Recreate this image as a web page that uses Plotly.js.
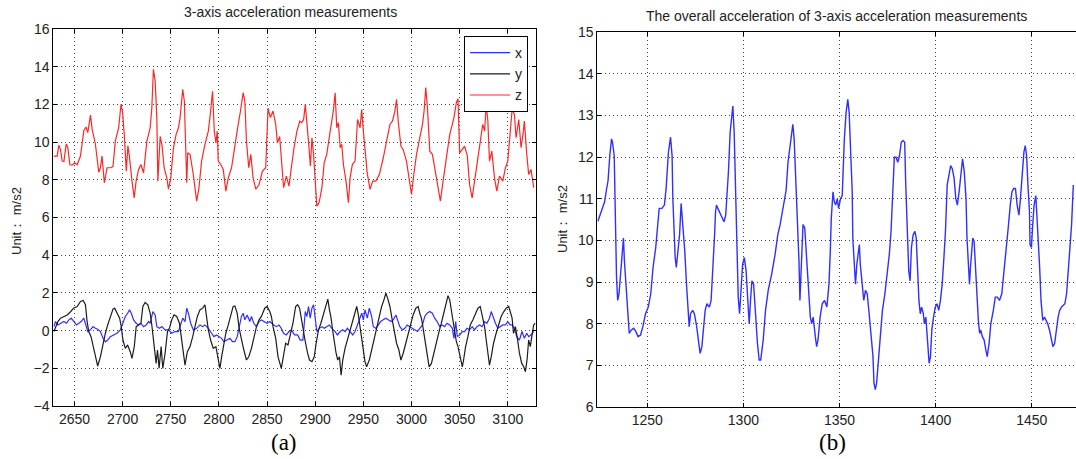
<!DOCTYPE html>
<html>
<head>
<meta charset="utf-8">
<script src="https://cdn.plot.ly/plotly-3.0.1.min.js"></script>
<style>html,body{margin:0;padding:0;background:#fff}#chart{width:1076px;height:459px}</style>
</head>
<body>
<div id="chart"></div>
<script>
// ---- Data (sample index, value) ----
const titleA = "3-axis acceleration measurements";
const titleB = "The overall acceleration of 3-axis acceleration measurements";
const yLabel = "Unit： m/s2";
const seriesNames = ["x", "y", "z"];
const ticksA = [2650, 2700, 2750, 2800, 2850, 2900, 2950, 3000, 3050, 3100];
const yTicksA = [-4, -2, 0, 2, 4, 6, 8, 10, 12, 14, 16];
const ticksB = [1250, 1300, 1350, 1400, 1450];
const yTicksB = [6, 7, 8, 9, 10, 11, 12, 13, 14, 15];

const zAxis = [[2628.6,9.26],[2632,9.26],[2633.8,9.84],[2635.5,9.6],[2637.2,9.0],[2639,8.96],[2641.4,9.9],[2643.1,9.7],[2645.2,8.8],[2647.6,8.78],[2650,8.9],[2652.8,8.8],[2656.2,9.26],[2659.7,10.6],[2662,10.8],[2663.8,10.5],[2666.6,11.43],[2668.3,10.7],[2671.7,9.9],[2675.2,8.4],[2676.9,8.64],[2678.6,9.26],[2681,7.84],[2683.8,8.64],[2687.2,8.64],[2690,8.7],[2692.4,10.05],[2695.9,10.76],[2698.3,12.0],[2700,11.56],[2701.7,10.4],[2703.8,8.46],[2705.5,9.8],[2707.2,9.17],[2709.7,7.93],[2712,7.04],[2714,7.93],[2716.6,8.55],[2719,8.81],[2721.7,8.37],[2725.2,10.05],[2728.6,10.76],[2730.3,11.8],[2732,13.86],[2733.8,13.24],[2735.5,11.3],[2736.6,7.93],[2739,10.3],[2741,9.79],[2743.1,8.64],[2745.9,8.1],[2747.6,7.5],[2750,8.1],[2752.8,9.7],[2755.5,10.4],[2758,10.76],[2759.7,11.3],[2762.4,12.8],[2764.1,12.18],[2765.9,9.17],[2766.6,7.84],[2767.6,9.43],[2770,9.35],[2773.4,8.28],[2776.9,6.87],[2779.3,7.58],[2782,8.99],[2785.5,9.88],[2789,10.58],[2791.4,11.65],[2793.4,12.7],[2795.2,10.58],[2796.9,9.96],[2798.3,10.58],[2799.3,8.99],[2802,8.81],[2804.5,8.55],[2807.2,7.4],[2809.7,8.1],[2813.1,8.64],[2816.6,9.88],[2820,10.94],[2822.4,11.65],[2825.2,12.62],[2826.9,12.18],[2828.6,10.05],[2831,8.64],[2833.1,9.35],[2835.5,8.1],[2838.3,7.5],[2841.7,7.75],[2845.2,8.46],[2848.6,8.64],[2851,11.8],[2853.4,11.3],[2856.2,11.65],[2859,10.94],[2860.7,9.96],[2863.1,10.3],[2864.8,9.35],[2867.2,7.58],[2870,8.2],[2872.8,7.66],[2875.2,8.64],[2876,8.99],[2878,9.7],[2881,10.58],[2884,11.12],[2886,11.03],[2888,11.2],[2889.7,12.0],[2891.4,11.1],[2893,10.05],[2895,8.73],[2896.6,10.23],[2898.3,9.35],[2900,8.0],[2901.7,6.6],[2904,6.78],[2907,7.58],[2909.3,8.9],[2912,9.35],[2914.8,10.32],[2917.2,11.12],[2919,11.73],[2920.7,12.62],[2922.4,10.76],[2924,11.03],[2926,9.7],[2927.6,9.88],[2929.3,8.81],[2932,7.93],[2934.5,6.78],[2936.2,8.1],[2938.6,8.81],[2941.4,8.99],[2944,11.2],[2946.6,10.76],[2948.3,11.73],[2950,10.58],[2951.7,9.7],[2954,8.37],[2956.9,7.49],[2959.7,7.93],[2963,7.93],[2966.6,8.28],[2970.7,9.17],[2974,10.05],[2977.6,10.94],[2980.3,11.12],[2982.8,11.65],[2984.5,12.27],[2986.2,11.12],[2989,9.79],[2991.4,9.6],[2994.8,8.99],[2997.6,8.0],[3000,7.22],[3002.4,8.28],[3005.2,9.35],[3008.6,10.23],[3011.4,10.94],[3013.1,11.65],[3014.8,12.89],[3016.6,11.82],[3019,9.52],[3021.7,9.35],[3024.1,8.64],[3026.9,7.93],[3030,6.87],[3032.8,7.93],[3036.2,9.17],[3039.7,10.4],[3042.4,10.94],[3044.1,11.3],[3046.6,12.09],[3048.3,12.3],[3050,9.43],[3052.8,9.61],[3055.2,9.79],[3058,9.26],[3060.3,7.75],[3063,7.04],[3065.5,7.93],[3069,8.99],[3071.7,10.05],[3074,10.94],[3075.9,10.58],[3077.6,12.0],[3079.3,11.12],[3081,8.99],[3083.4,9.52],[3086.2,8.1],[3088.6,7.4],[3091.4,8.2],[3094.8,7.93],[3097.6,8.64],[3100,8.99],[3102.4,10.48],[3104.5,11.73],[3106.9,11.47],[3108.6,10.23],[3111.4,11.2],[3113.8,9.7],[3116.2,10.58],[3117.2,11.12],[3119.7,9.35],[3121.7,8.28],[3124.1,8.55],[3127,7.58]];

const yAxisSeries = [[2628.6,-0.05],[2630.3,0.2],[2632.8,0.48],[2635.5,0.66],[2639,0.75],[2642.4,0.83],[2645.9,1.0],[2649.3,1.2],[2652.8,1.28],[2656.2,1.55],[2659,1.6],[2661.4,1.37],[2663.1,0.48],[2664.8,-0.05],[2667.2,-0.32],[2670,-1.03],[2672.4,-1.56],[2674.1,-1.88],[2676.9,-1.39],[2679.7,-0.67],[2682.1,-0.14],[2684.5,0.3],[2687.2,0.75],[2690,1.14],[2691.7,1.19],[2694.1,0.92],[2696.9,0.66],[2698.6,0.21],[2700.3,-0.5],[2702.8,-0.94],[2705.2,-0.76],[2707.9,-1.12],[2709.7,-1.47],[2712.1,-0.85],[2714.1,0.21],[2716.6,0.3],[2719,0.39],[2721,1.28],[2723.4,1.49],[2726.2,1.37],[2728.6,0.92],[2730.3,0.3],[2732.8,-0.67],[2734.8,-1.74],[2736.2,-1.03],[2737.9,-2.0],[2740,-0.85],[2741.7,-2.0],[2744.1,-1.2],[2746.6,-0.05],[2748.6,0.12],[2751,0.57],[2753.4,0.83],[2756.2,0.75],[2759,0.39],[2760.7,-0.32],[2762.4,-1.03],[2764.8,-1.83],[2767.2,-1.12],[2770,-0.85],[2772.8,-0.32],[2775.2,0.3],[2777.6,0.75],[2780.3,1.1],[2783.1,1.19],[2785.5,1.37],[2787.2,0.75],[2789,0.04],[2791.4,-0.5],[2794.1,-0.94],[2796.9,-0.85],[2799.3,-1.47],[2801,-2.0],[2802.8,-1.39],[2804.5,-0.85],[2807.2,-0.14],[2809.7,0.3],[2812.1,0.75],[2814.8,1.28],[2816.6,1.31],[2819,0.92],[2821,0.12],[2823.4,-0.5],[2825.9,-1.03],[2828.6,-1.56],[2831,-1.39],[2833.8,-0.94],[2836.2,-0.41],[2839,0.21],[2841.7,0.57],[2844.1,0.75],[2847.6,1.19],[2850,1.28],[2852.8,1.01],[2854.5,0.75],[2856.2,0.21],[2859,-0.41],[2861.4,-1.39],[2863.1,-1.74],[2864.8,-2.0],[2866.6,-1.47],[2869.3,-0.67],[2871.7,-0.76],[2874.1,-0.23],[2876.9,0.39],[2879.7,1.28],[2881.7,1.37],[2883.8,1.19],[2885.5,0.66],[2887.2,0.04],[2889.7,-0.59],[2892.1,-1.2],[2894.1,-1.56],[2896.6,-1.65],[2899,-1.39],[2901,-0.67],[2903.4,0.04],[2905.9,0.39],[2908.6,0.92],[2911.4,1.46],[2913.1,1.67],[2914.8,1.1],[2916.2,0.75],[2918.3,-0.05],[2920,-0.67],[2921.7,-1.2],[2923.4,-1.56],[2925.2,-1.39],[2926.9,-2.36],[2928.6,-1.56],[2931,-0.94],[2933.4,-0.5],[2936.2,0.04],[2939,0.66],[2941.4,1.1],[2943.1,1.28],[2944.8,0.83],[2946.6,0.21],[2948.3,-0.5],[2950,-1.03],[2951.7,-1.65],[2953.4,-1.92],[2956.2,-1.56],[2958.6,-1.03],[2961,-0.5],[2963.8,0.04],[2966.6,0.66],[2969,1.28],[2971.4,1.63],[2973.4,1.99],[2975.2,1.72],[2977.6,1.28],[2980,0.57],[2982.1,-0.05],[2984.5,-0.67],[2986.9,-1.03],[2989,-1.56],[2991.4,-1.2],[2994.1,-0.67],[2996.6,-0.14],[2999.3,0.39],[3001.7,0.83],[3004.5,1.19],[3006.9,1.28],[3008.6,0.92],[3010.3,0.66],[3012.1,0.12],[3014.8,-0.85],[3016.6,-1.56],[3018.3,-1.92],[3020.7,-1.74],[3023.1,-1.2],[3025.9,-0.67],[3028.6,-0.05],[3031,0.39],[3033.4,0.92],[3036.2,1.55],[3037.9,1.85],[3039.7,1.63],[3041.4,1.1],[3043.1,0.57],[3044.8,0.04],[3046.6,-0.59],[3048.3,-0.85],[3050.7,-1.39],[3052.8,-1.92],[3054.1,-1.56],[3056.2,-0.85],[3058.6,-0.32],[3061,0.3],[3063.8,0.57],[3066.6,0.92],[3069,1.19],[3071.4,1.28],[3073.4,0.83],[3075.9,0.21],[3077.6,-0.5],[3079.3,-1.2],[3081,-1.83],[3082.8,-1.39],[3085.2,-0.67],[3087.9,-0.14],[3090.7,0.39],[3093.1,0.75],[3095.9,1.01],[3098.3,1.19],[3101,1.28],[3102.8,0.92],[3104.5,0.66],[3105.9,-0.14],[3107.9,0.21],[3109.7,-0.32],[3112.1,-1.2],[3114.5,-1.74],[3116.6,-1.92],[3118.3,-2.18],[3120,-1.56],[3121.7,-0.5],[3123.4,-0.85],[3125.2,-0.23],[3126.9,0.3],[3128.5,0.4]];

const xAxisSeries = [[2628.6,0.21],[2630.3,0.48],[2632.8,0.3],[2635.5,0.39],[2639,0.48],[2641.7,0.39],[2644.1,0.57],[2646.6,0.66],[2649.3,0.48],[2652.1,0.3],[2654.5,0.39],[2656.9,0.48],[2659.7,0.66],[2662.1,0.3],[2663.8,-0.05],[2666.6,0.04],[2669.3,0.21],[2671.7,0.12],[2674.1,0.07],[2676.9,-0.05],[2679.7,-0.41],[2682.1,-0.6],[2684.5,-0.5],[2687.2,-0.32],[2690.7,-0.23],[2694.1,-0.14],[2697.6,0.04],[2700.3,0.39],[2702.8,0.75],[2705.2,0.92],[2707.2,1.1],[2709,0.92],[2711.4,0.57],[2714.1,0.39],[2716.6,0.3],[2719,0.39],[2721.7,0.21],[2724.5,0.3],[2726.9,0.48],[2728.6,0.39],[2731.4,1.01],[2733.8,0.83],[2735.5,0.21],[2738.3,0.12],[2740.7,0.21],[2744.1,0.04],[2747.6,0.04],[2751,-0.14],[2754.5,-0.05],[2757.9,-0.05],[2760.3,0.3],[2762.4,0.66],[2764.8,0.48],[2766.6,1.19],[2768.3,0.92],[2770.7,0.39],[2773.4,0.04],[2776.9,0.12],[2780.3,0.3],[2783.1,0.21],[2785.5,0.3],[2789,0.12],[2792.4,-0.14],[2794.8,-0.32],[2797.6,-0.23],[2800.3,-0.32],[2802.8,-0.41],[2805.2,-0.59],[2807.9,-0.5],[2811.4,-0.41],[2814.1,-0.59],[2816.6,-0.59],[2819,-0.32],[2821,0.21],[2823.4,0.75],[2825.2,0.92],[2826.9,0.57],[2829.3,0.83],[2832.1,0.48],[2833.8,0.75],[2836.2,0.39],[2839,0.21],[2841.7,0.48],[2844.1,0.57],[2847.6,0.48],[2850,0.39],[2852.8,0.48],[2854.5,0.39],[2856.9,0.3],[2859.7,0.21],[2862.4,0.3],[2864.8,0.12],[2867.2,-0.14],[2870,-0.23],[2872.8,-0.05],[2875.2,0.04],[2878.6,-0.23],[2881.7,-0.23],[2884.5,-0.5],[2887.2,-0.5],[2889.7,1.01],[2891.4,0.75],[2893.1,1.28],[2894.8,0.66],[2896.6,1.19],[2898.3,1.37],[2900,0.57],[2901.7,-0.05],[2904.5,0.12],[2906.9,0.21],[2909.3,0.12],[2912.1,0.21],[2914.8,0.3],[2917.2,0.12],[2920.7,-0.05],[2923.1,-0.23],[2925.9,-0.05],[2928.6,0.04],[2931,-0.05],[2933.4,0.12],[2936.2,-0.05],[2939,-0.23],[2941.4,-0.05],[2944.1,0.3],[2946.6,0.66],[2948.3,0.92],[2950,0.57],[2951.7,1.1],[2954.1,0.66],[2956.2,1.19],[2958.6,0.75],[2960.3,0.21],[2963.1,0.12],[2965.5,0.3],[2967.9,0.48],[2970.7,0.57],[2973.4,0.66],[2975.9,0.57],[2978.6,0.48],[2981,0.57],[2983.8,0.83],[2985.5,0.57],[2987.9,0.21],[2990.7,0.04],[2993.1,0.12],[2995.5,0.3],[2998.3,0.21],[3001,0.12],[3003.4,0.04],[3006.2,-0.05],[3008.6,0.12],[3011.4,0.3],[3013.8,0.75],[3016.2,0.92],[3019,1.01],[3021.7,0.92],[3024.1,0.66],[3026.6,0.48],[3029.3,0.21],[3032.1,0.3],[3034.5,0.21],[3036.9,0.39],[3039.7,0.3],[3042.4,0.12],[3044.1,-0.41],[3045.9,0.48],[3047.6,-0.32],[3050,-0.23],[3052.8,-0.05],[3055.2,-0.05],[3057.6,0.12],[3060.3,0.04],[3063.1,0.21],[3065.5,0.04],[3067.9,0.21],[3070.7,0.3],[3073.4,0.21],[3075.9,0.48],[3078.3,0.39],[3081,0.66],[3082.8,1.01],[3084.5,0.75],[3087.2,0.39],[3089.7,0.12],[3092.1,0.21],[3094.8,0.3],[3097.6,0.3],[3100,0.48],[3102.4,0.3],[3104.5,0.3],[3106.9,0.12],[3109.3,-0.32],[3112.1,-0.5],[3114.8,-0.05],[3117.2,-0.41],[3119.7,-0.14],[3121.7,-0.32],[3124.1,-0.23],[3126.9,-0.05]];

const overall = [[1224.3,10.46],[1226.1,10.69],[1227.8,10.93],[1228.7,11.2],[1229.6,11.44],[1230.5,12.04],[1231.4,12.44],[1231.9,12.36],[1232.8,12.04],[1234.0,9.11],[1234.6,8.56],[1235.3,8.72],[1236.3,9.35],[1237.1,9.67],[1237.6,10.06],[1238.1,9.51],[1238.8,8.95],[1239.9,8.08],[1240.6,7.77],[1241.7,7.85],[1242.9,7.89],[1244.1,7.81],[1245.2,7.69],[1246.5,7.73],[1247.7,7.93],[1249.1,8.24],[1250.5,8.4],[1251.8,8.72],[1253.0,9.35],[1254.4,9.83],[1255.3,10.3],[1256.2,10.77],[1257.6,10.77],[1258.9,10.85],[1259.8,11.25],[1261.0,12.12],[1262.1,12.48],[1262.9,12.04],[1263.3,11.0],[1263.8,10.22],[1264.5,9.59],[1265.1,9.35],[1266.0,9.83],[1266.8,10.14],[1267.6,10.89],[1268.6,10.37],[1269.5,9.75],[1270.4,8.95],[1271.3,8.24],[1271.8,7.93],[1272.5,8.24],[1273.6,8.32],[1274.5,8.24],[1275.7,7.93],[1276.8,7.53],[1277.5,7.29],[1278.4,7.45],[1279.3,8.0],[1280.1,8.32],[1281.0,8.48],[1282.3,8.4],[1283.2,8.56],[1284.2,9.35],[1285.1,10.22],[1285.5,10.69],[1286.0,10.85],[1286.7,10.77],[1288.1,10.61],[1289.9,10.45],[1290.8,10.61],[1291.3,10.93],[1292.2,11.64],[1293.1,12.6],[1294.0,13.15],[1294.5,13.23],[1295.2,12.6],[1296.1,11.0],[1296.6,9.75],[1297.3,8.64],[1298.0,8.24],[1298.8,8.72],[1299.6,9.43],[1300.5,9.59],[1301.4,9.27],[1302.3,8.56],[1303.0,8.0],[1303.7,8.56],[1304.4,9.03],[1305.3,8.95],[1306.2,8.24],[1307.3,7.53],[1308.2,7.13],[1309.0,7.13],[1310.3,7.61],[1311.5,8.32],[1312.9,8.8],[1314.7,9.19],[1316.5,9.67],[1317.9,10.14],[1319.1,10.38],[1320.4,10.77],[1321.5,11.0],[1322.2,11.2],[1323.2,11.88],[1324.5,12.44],[1325.7,12.79],[1326.4,12.44],[1327.1,11.64],[1327.7,11.0],[1328.2,10.3],[1328.9,9.51],[1329.4,8.56],[1330.0,9.19],[1331.0,10.38],[1331.9,10.3],[1332.8,9.59],[1333.9,8.8],[1334.8,8.16],[1335.5,8.0],[1336.3,8.16],[1337.4,7.69],[1338.1,7.45],[1338.8,7.61],[1339.9,8.16],[1341.0,8.48],[1342.2,8.56],[1343.4,8.4],[1344.5,8.95],[1345.2,9.75],[1345.7,10.53],[1346.6,11.17],[1347.3,10.93],[1348.0,10.85],[1348.8,11.0],[1349.5,10.77],[1350.5,11.0],[1351.4,11.08],[1352.5,12.44],[1353.4,13.07],[1354.3,13.39],[1355.0,13.07],[1355.9,12.2],[1356.6,11.17],[1356.9,10.06],[1357.6,9.35],[1358.3,8.95],[1359.0,9.43],[1359.8,9.75],[1360.3,9.9],[1360.8,9.43],[1361.7,8.95],[1362.6,8.56],[1363.5,8.8],[1364.4,8.72],[1365.4,8.24],[1366.5,7.69],[1367.4,7.21],[1367.9,6.58],[1368.6,6.42],[1369.3,6.58],[1370.2,7.05],[1371.1,7.69],[1372.3,8.32],[1373.6,8.72],[1374.6,9.11],[1375.9,9.67],[1376.8,10.22],[1377.3,10.85],[1377.8,11.49],[1378.5,12.0],[1379.4,12.0],[1380.3,11.88],[1381.2,12.04],[1382.1,12.36],[1383.0,12.4],[1383.9,12.36],[1384.4,11.4],[1384.9,10.85],[1385.3,10.06],[1386.0,9.27],[1386.7,9.03],[1387.4,9.83],[1388.3,10.14],[1389.2,10.22],[1389.9,10.06],[1390.6,9.19],[1391.3,8.56],[1392.0,8.24],[1392.7,8.4],[1393.6,8.24],[1394.1,8.0],[1394.9,8.16],[1395.7,7.53],[1396.6,7.05],[1397.3,7.21],[1398.0,7.85],[1398.9,8.16],[1399.8,8.4],[1400.7,8.48],[1401.6,8.32],[1402.5,8.56],[1403.4,8.95],[1404.3,9.59],[1405.1,10.22],[1406.0,11.33],[1406.9,11.56],[1407.8,11.8],[1408.7,11.72],[1409.6,11.49],[1410.5,11.0],[1411.3,10.85],[1412.2,11.17],[1413.1,11.64],[1414.0,11.96],[1414.9,11.64],[1415.8,11.0],[1416.3,10.06],[1417.0,9.43],[1417.6,8.95],[1418.1,9.35],[1418.8,9.9],[1419.3,10.06],[1420.0,9.98],[1420.7,9.35],[1421.5,8.56],[1422.2,8.08],[1422.9,7.77],[1423.4,7.85],[1424.3,7.69],[1425.2,7.61],[1426.1,7.37],[1426.8,7.21],[1427.8,7.53],[1428.7,8.0],[1430.0,8.32],[1431.0,8.64],[1432.1,8.64],[1433.2,8.56],[1434.4,8.72],[1435.3,9.11],[1436.2,9.59],[1437.1,10.06],[1437.9,10.38],[1438.8,10.85],[1439.7,11.17],[1440.6,11.25],[1441.5,11.25],[1442.4,10.85],[1443.3,10.61],[1444.1,11.0],[1445.0,11.56],[1445.9,12.12],[1446.6,12.28],[1447.3,12.04],[1448.0,11.33],[1448.8,10.69],[1449.1,9.9],[1449.8,9.83],[1450.5,10.38],[1451.2,10.85],[1452.1,11.08],[1452.7,10.61],[1453.4,9.98],[1454.1,9.35],[1454.8,8.56],[1455.7,8.08],[1456.6,8.16],[1457.4,8.08],[1458.3,8.0],[1459.2,7.85],[1460.1,7.61],[1461.0,7.45],[1461.9,7.53],[1462.8,7.93],[1463.7,8.16],[1464.5,8.32],[1465.4,8.4],[1466.3,8.44],[1467.2,8.48],[1468.1,8.72],[1469.0,9.27],[1469.9,9.9],[1470.7,10.38],[1471.6,11.33]];

// ---- Build traces ----
const col = {x: "#2f2fff", y: "#1c1c1c", z: "#ff2626"};
const xs = a => a.map(p => p[0]);
const vs = a => a.map(p => p[1]);

const traces = [
  {x: xs(xAxisSeries), y: vs(xAxisSeries), name: seriesNames[0], type: "scatter", mode: "lines",
   line: {color: col.x, width: 1.2}, xaxis: "x", yaxis: "y"},
  {x: xs(yAxisSeries), y: vs(yAxisSeries), name: seriesNames[1], type: "scatter", mode: "lines",
   line: {color: col.y, width: 1.2}, xaxis: "x", yaxis: "y"},
  {x: xs(zAxis), y: vs(zAxis), name: seriesNames[2], type: "scatter", mode: "lines",
   line: {color: col.z, width: 1.2}, xaxis: "x", yaxis: "y"},
  {x: xs(overall), y: vs(overall), name: "overall", type: "scatter", mode: "lines", showlegend: false,
   line: {color: col.x, width: 1.4}, xaxis: "x2", yaxis: "y2"}
];

const W = 1076, H = 459;
const fontFam = "Liberation Sans, Arial, sans-serif";
const axBase = {
  showline: true, linecolor: "#000", linewidth: 1,
  ticks: "inside", ticklen: 4, tickcolor: "#000", tickwidth: 1,
  showgrid: true, gridcolor: "#444", gridwidth: 1, griddash: "1px,3px",
  zeroline: false, tickfont: {family: fontFam, size: 14, color: "#222"},
  fixedrange: true
};

const layout = {
  width: W, height: H,
  margin: {l: 0, r: 0, t: 0, b: 0},
  paper_bgcolor: "#fff", plot_bgcolor: "#fff",
  showlegend: true,
  legend: {x: 528/W, xanchor: "right", y: 1 - 36/H, yanchor: "top",
    bgcolor: "#fff", bordercolor: "#000", borderwidth: 1,
    font: {family: fontFam, size: 14, color: "#222"}, tracegroupgap: 0, itemwidth: 40},
  xaxis: Object.assign({}, axBase, {domain: [53.3/W, 535.7/W], range: [2628, 3129],
    tickvals: ticksA, mirror: "allticks", anchor: "y"}),
  yaxis: Object.assign({}, axBase, {domain: [1 - 406/H, 1 - 29/H], range: [-4, 16],
    tickvals: yTicksA, mirror: "allticks", anchor: "x"}),
  xaxis2: Object.assign({}, axBase, {domain: [597.3/W, 1], range: [1224, 1473],
    tickvals: ticksB, mirror: "allticks", anchor: "y2"}),
  yaxis2: Object.assign({}, axBase, {domain: [1 - 407/H, 1 - 32.3/H], range: [6, 15],
    tickvals: yTicksB, mirror: false, anchor: "x2"}),
  annotations: [
    {text: titleA, xref: "paper", yref: "paper", x: 290/W, y: 1 - 12/H, showarrow: false,
     xanchor: "center", yanchor: "middle", font: {family: fontFam, size: 14, color: "#222"}},
    {text: titleB, xref: "paper", yref: "paper", x: 836/W, y: 1 - 16/H, showarrow: false,
     xanchor: "center", yanchor: "middle", font: {family: fontFam, size: 14, color: "#222"}},
    {text: yLabel, xref: "paper", yref: "paper", x: 17/W, y: 1 - 221/H, showarrow: false, textangle: -90,
     xanchor: "center", yanchor: "middle", font: {family: fontFam, size: 13, color: "#222"}},
    {text: yLabel, xref: "paper", yref: "paper", x: 562/W, y: 1 - 219/H, showarrow: false, textangle: -90,
     xanchor: "center", yanchor: "middle", font: {family: fontFam, size: 13, color: "#222"}},
    {text: "(a)", xref: "paper", yref: "paper", x: 284/W, y: 1 - 442/H, showarrow: false,
     xanchor: "center", yanchor: "middle", font: {family: "Liberation Serif, Times New Roman, serif", size: 23, color: "#000"}},
    {text: "(b)", xref: "paper", yref: "paper", x: 832/W, y: 1 - 442/H, showarrow: false,
     xanchor: "center", yanchor: "middle", font: {family: "Liberation Serif, Times New Roman, serif", size: 23, color: "#000"}}
  ]
};

Plotly.newPlot("chart", traces, layout, {displayModeBar: false, staticPlot: true});
</script>
</body>
</html>
